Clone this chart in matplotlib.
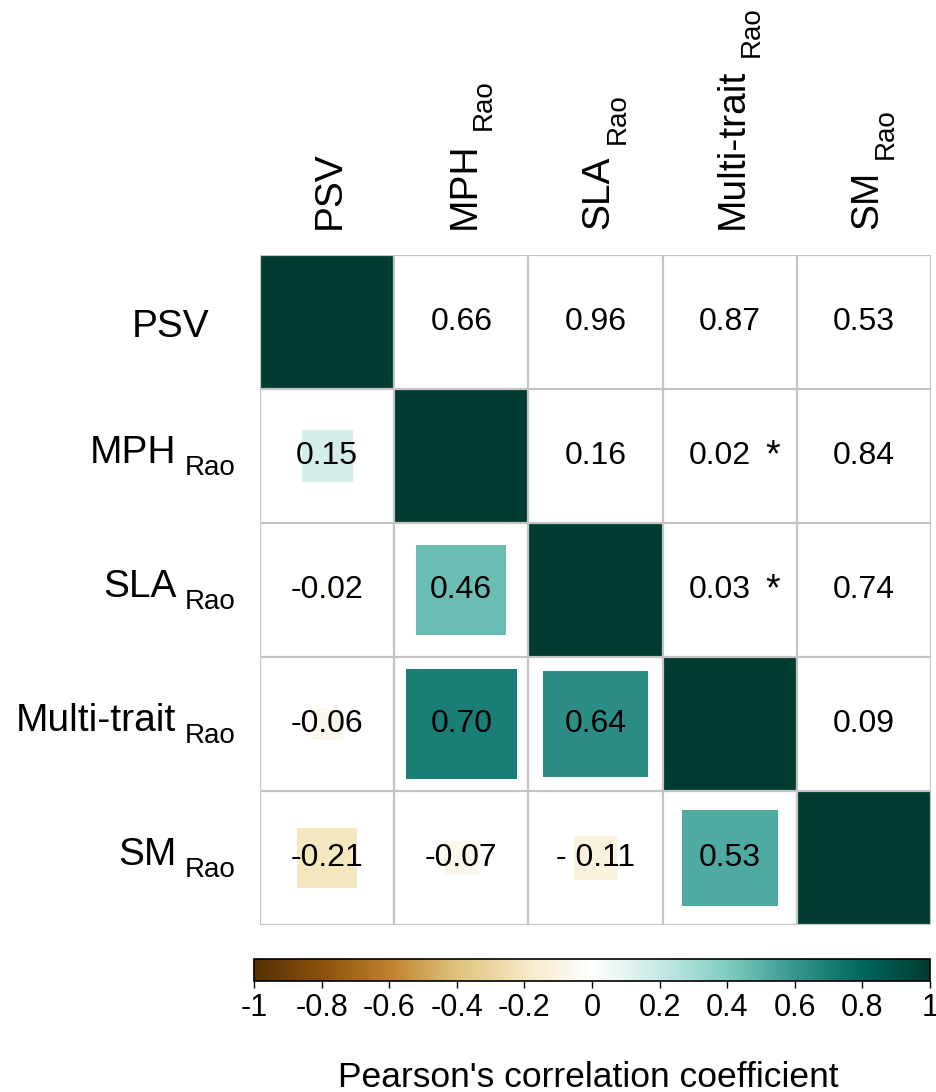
import numpy as np
import matplotlib
matplotlib.use("Agg")
import matplotlib.pyplot as plt
from matplotlib.colors import LinearSegmentedColormap
from matplotlib.patches import Rectangle

plt.rcParams['font.family'] = ['Liberation Sans', 'DejaVu Sans']

# Variables (row/column order)
var_names = ['PSV', 'MPH', 'SLA', 'Multi-trait', 'SM']
var_subscripts = ['', 'Rao', 'Rao', 'Rao', 'Rao']

# Pearson correlations (lower triangle, row > column)
r_mph = [0.15]
r_sla = [-0.02, 0.46]
r_multi = [-0.06, 0.70, 0.64]
r_sm = [-0.21, -0.07, -0.11, 0.53]
lower_r = [[], r_mph, r_sla, r_multi, r_sm]
# printed form of the coefficients where it differs from plain formatting
label_override = {(4, 2): '- 0.11'}

# p-values (upper triangle, row < column)
p_psv = [0.66, 0.96, 0.87, 0.53]
p_mph = [0.16, 0.02, 0.84]
p_sla = [0.03, 0.74]
p_multi = [0.09]
upper_p = [p_psv, p_mph, p_sla, p_multi, []]
alpha = 0.05

cbar_ticks = [-1, -0.8, -0.6, -0.4, -0.2, 0, 0.2, 0.4, 0.6, 0.8, 1]
cbar_label = "Pearson's correlation coefficient"

# Brown-teal diverging palette with a white midpoint
cmap = LinearSegmentedColormap.from_list(
    'brbg_white',
    ['#543005', '#8c510a', '#bf812d', '#dfc27d', '#f6e8c3', '#ffffff',
     '#c7eae5', '#80cdc1', '#35978f', '#01665e', '#003c30'])
norm = plt.Normalize(-1, 1)

W, H = 937, 1092
n = len(var_names)
fig = plt.figure(figsize=(W / 100, H / 100), dpi=100)


def fx(x):
    return x / W


def fy(y_top):
    return 1 - y_top / H


# matrix panel, pixel frame: x 260..931, y 255..925 (from top)
X0, X1, Y0, Y1 = 260, 931, 255, 925
cw = (X1 - X0) / n
ch = (Y1 - Y0) / n
ax = fig.add_axes([fx(X0), fy(Y1), fx(X1 - X0), (Y1 - Y0) / H])
ax.set_xlim(0, n)
ax.set_ylim(n, 0)
ax.axis('off')

num_fs = 23
lab_fs = 28
sub_fs = 20
grid_col = '#c4c4c4'


def square(i, j, r):
    side = np.sqrt(abs(r)) * 0.985
    ax.add_patch(Rectangle((j + 0.5 - side / 2, i + 0.5 - side / 2), side, side,
                           facecolor=cmap(norm(r)), edgecolor='none', zorder=1))


# diagonal
for k in range(n):
    square(k, k, 1.0)

# lower triangle: squares sized by |r| with value labels
for i in range(n):
    for j, r in enumerate(lower_r[i]):
        square(i, j, r)
        txt = label_override.get((i, j), f"{r:.2f}")
        ax.text(j + 0.5, i + 0.5, txt, ha='center', va='center',
                fontsize=num_fs, color='black', zorder=3)

# upper triangle: p-values, starred when significant
for i in range(n):
    for k, p in enumerate(upper_p[i]):
        j = i + 1 + k
        if p < alpha:
            ax.text(j + 0.425, i + 0.5, f"{p:.2f}", ha='center', va='center',
                    fontsize=num_fs, zorder=3)
            ax.text(j + 0.82, i + 0.58, '*', ha='center', va='baseline',
                    fontsize=27, zorder=3)
        else:
            ax.text(j + 0.5, i + 0.5, f"{p:.2f}", ha='center', va='center',
                    fontsize=num_fs, zorder=3)

# cell grid
for k in range(n + 1):
    ax.plot([k, k], [0, n], color=grid_col, lw=1.6, zorder=2,
            solid_capstyle='projecting')
    ax.plot([0, n], [k, k], color=grid_col, lw=1.6, zorder=2,
            solid_capstyle='projecting')

renderer = fig.canvas.get_renderer()


def size_px(t):
    bb = t.get_window_extent(renderer=renderer)
    return bb.width, bb.height


# row labels: main name with a dropped "Rao" subscript, right-aligned
RIGHT = 236
for k in range(n):
    yc = Y0 + (k + 0.5) * ch
    if not var_subscripts[k]:
        fig.text(fx(209), fy(yc + 15), var_names[k], ha='right',
                 va='baseline', fontsize=lab_fs)
        continue
    base = yc + 7
    st = fig.text(fx(RIGHT), fy(base + 12), var_subscripts[k], ha='right',
                  va='baseline', fontsize=sub_fs)
    sw, _ = size_px(st)
    fig.text(fx(RIGHT - sw - 9), fy(base), var_names[k], ha='right',
             va='baseline', fontsize=lab_fs)

# column labels: rotated, reading upwards from just above the panel
START = 229
for k in range(n):
    xc = X0 + (k + 0.5) * cw
    base_x = xc + 13
    mt = fig.text(fx(base_x), fy(START), var_names[k], ha='left',
                  va='baseline', rotation=90, rotation_mode='anchor',
                  fontsize=lab_fs)
    if var_subscripts[k]:
        _, mh = size_px(mt)
        fig.text(fx(base_x + 16), fy(START - mh - 12), var_subscripts[k],
                 ha='left', va='baseline', rotation=90,
                 rotation_mode='anchor', fontsize=sub_fs)

# colour bar
cax = fig.add_axes([fx(254), fy(981), fx(676), 22 / H])
sm = plt.cm.ScalarMappable(norm=norm, cmap=cmap)
cb = fig.colorbar(sm, cax=cax, orientation='horizontal', ticks=cbar_ticks)
cb.ax.set_xticklabels([f"{t:g}" for t in cbar_ticks], fontsize=22)
cb.outline.set_edgecolor('black')
cb.outline.set_linewidth(1.2)
cb.ax.tick_params(direction='out', length=5, width=1, pad=4)
fig.text(fx(588), fy(1087), cbar_label, ha='center', va='baseline',
         fontsize=25.5)

fig.savefig('out.png', dpi=100, facecolor='white')
